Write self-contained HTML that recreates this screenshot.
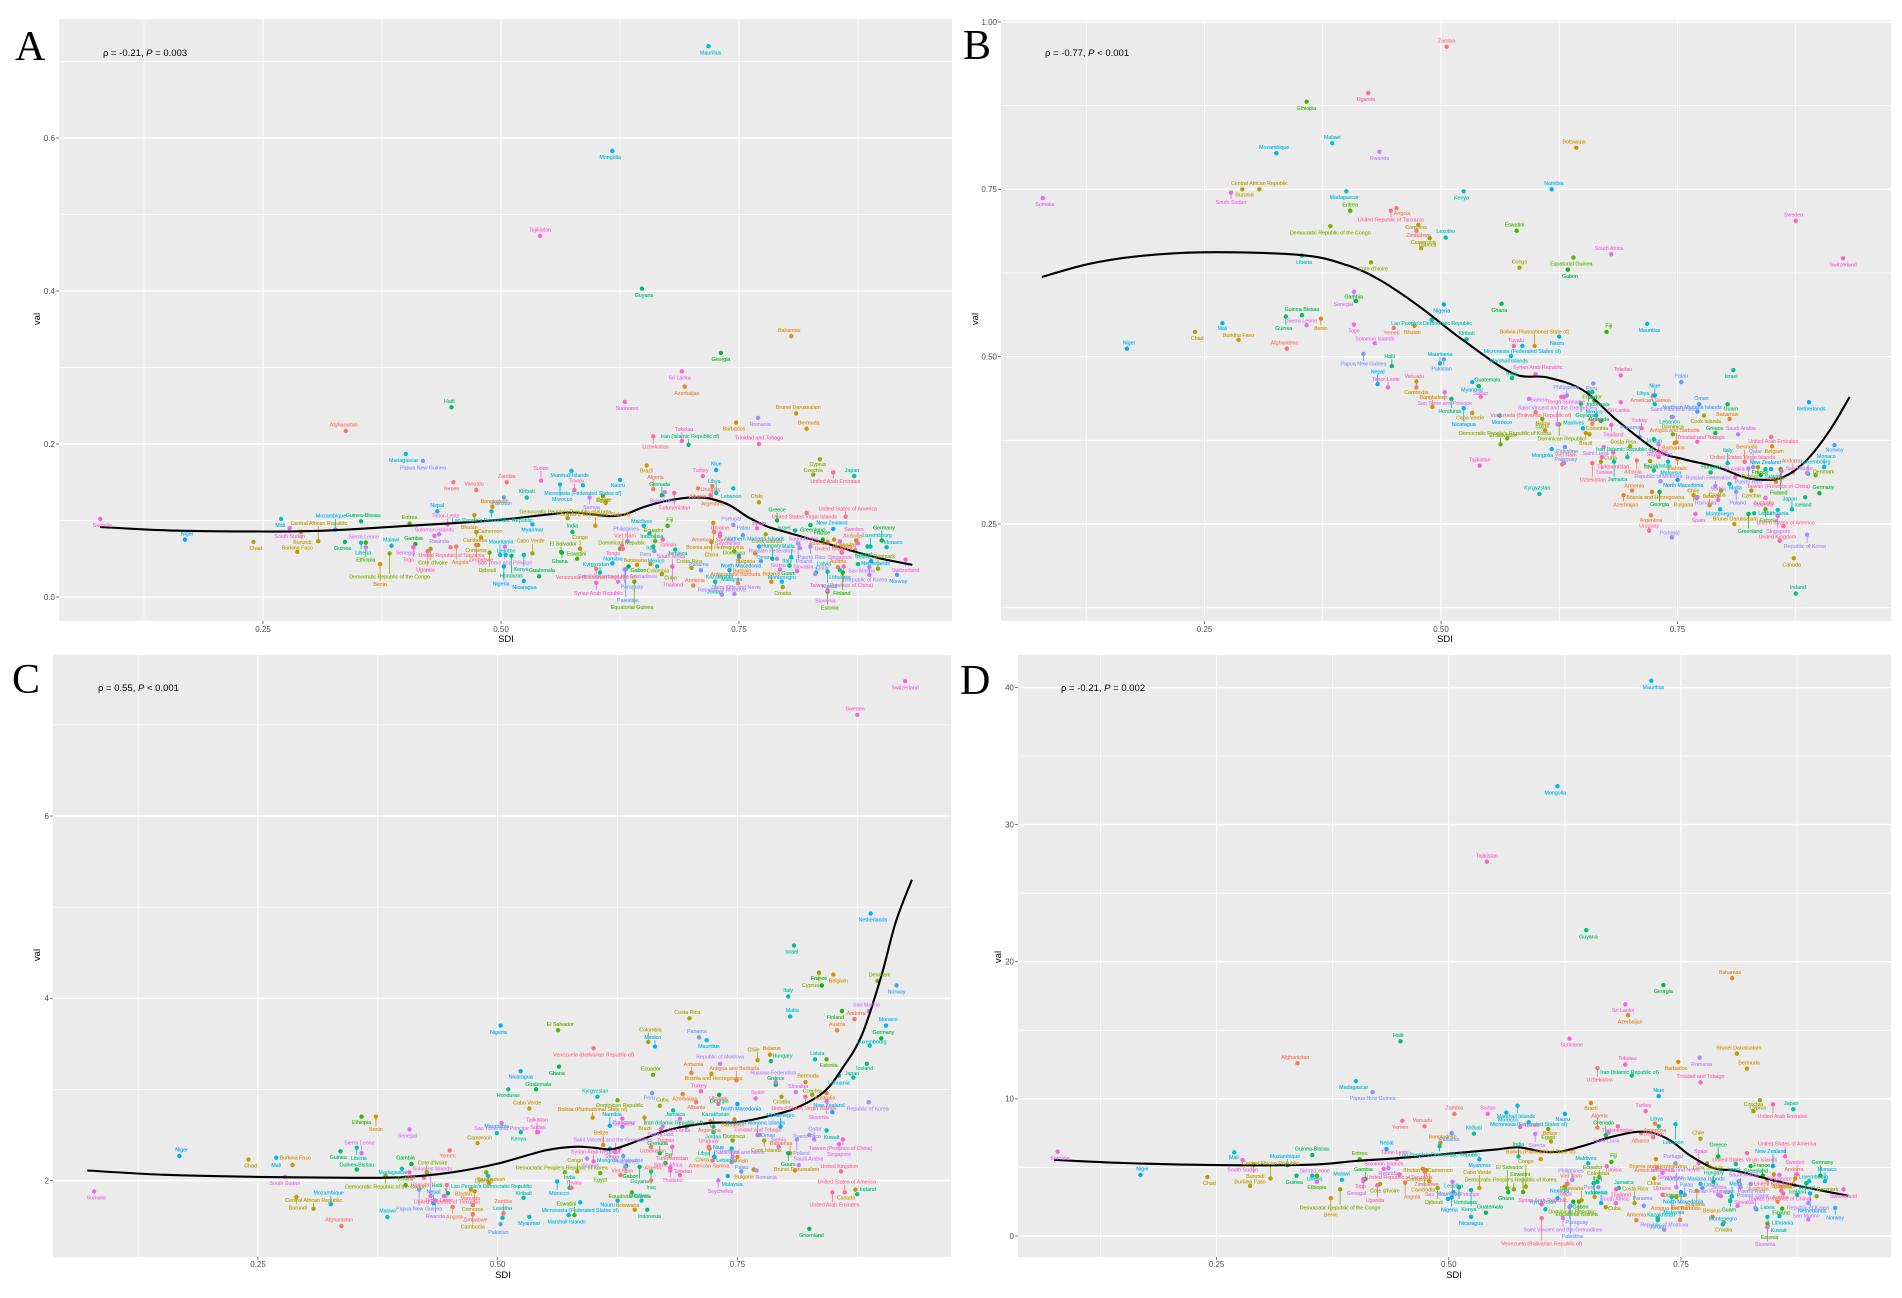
<!DOCTYPE html>
<html lang="en">
<head>
<meta charset="utf-8">
<title>SDI correlation panels</title>
<style>
html,body{margin:0;padding:0;background:#fff;}
svg{display:block;font-family:"Liberation Sans",sans-serif;filter:blur(0.3px);}
</style>
</head>
<body>
<svg id="figure" width="1902" height="1298" viewBox="0 0 1902 1298" xmlns="http://www.w3.org/2000/svg"></svg>
<script>
const countries = [
"Afghanistan","Albania","Algeria","American Samoa","Andorra","Angola","Antigua and Barbuda","Argentina","Armenia","Australia",
"Austria","Azerbaijan","Bahamas","Bahrain","Bangladesh","Barbados","Belarus","Belgium","Belize","Benin",
"Bermuda","Bhutan","Bolivia (Plurinational State of)","Bosnia and Herzegovina","Botswana","Brazil","Brunei Darussalam","Bulgaria","Burkina Faso","Burundi",
"Cabo Verde","Cambodia","Cameroon","Canada","Central African Republic","Chad","Chile","China","Colombia","Comoros",
"Congo","Cook Islands","Costa Rica","Croatia","Cuba","Cyprus","Czechia","Cote d'Ivoire","Democratic People's Republic of Korea","Democratic Republic of the Congo",
"Denmark","Djibouti","Dominica","Dominican Republic","Ecuador","Egypt","El Salvador","Equatorial Guinea","Eritrea","Estonia",
"Eswatini","Ethiopia","Fiji","Finland","France","Gabon","Gambia","Georgia","Germany","Ghana",
"Greece","Greenland","Grenada","Guam","Guatemala","Guinea","Guinea-Bissau","Guyana","Haiti","Honduras",
"Hungary","Iceland","India","Indonesia","Iran (Islamic Republic of)","Iraq","Ireland","Israel","Italy","Jamaica",
"Japan","Jordan","Kazakhstan","Kenya","Kiribati","Kuwait","Kyrgyzstan","Lao People's Democratic Republic","Latvia","Lebanon",
"Lesotho","Liberia","Libya","Lithuania","Luxembourg","Madagascar","Malawi","Malaysia","Maldives","Mali",
"Malta","Marshall Islands","Mauritania","Mauritius","Mexico","Micronesia (Federated States of)","Monaco","Mongolia","Montenegro","Morocco",
"Mozambique","Myanmar","Namibia","Nauru","Nepal","Netherlands","New Zealand","Nicaragua","Niger","Nigeria",
"Niue","North Macedonia","Northern Mariana Islands","Norway","Oman","Pakistan","Palau","Palestine","Panama","Papua New Guinea",
"Paraguay","Peru","Philippines","Poland","Portugal","Puerto Rico","Qatar","Republic of Korea","Republic of Moldova","Romania",
"Russian Federation","Rwanda","Saint Kitts and Nevis","Saint Lucia","Saint Vincent and the Grenadines","Samoa","San Marino","Sao Tome and Principe","Saudi Arabia","Senegal",
"Serbia","Seychelles","Sierra Leone","Singapore","Slovakia","Slovenia","Solomon Islands","Somalia","South Africa","South Sudan",
"Spain","Sri Lanka","Sudan","Suriname","Sweden","Switzerland","Syrian Arab Republic","Taiwan (Province of China)","Tajikistan","Thailand",
"Timor-Leste","Togo","Tokelau","Tonga","Trinidad and Tobago","Tunisia","Turkey","Turkmenistan","Tuvalu","Uganda",
"Ukraine","United Arab Emirates","United Kingdom","United Republic of Tanzania","United States of America","United States Virgin Islands","Uruguay","Uzbekistan","Vanuatu","Venezuela (Bolivarian Republic of)",
"Viet Nam","Yemen","Zambia","Zimbabwe"
];
const sdi = [
.337,.707,.66,.724,.872,.453,.749,.722,.702,.843,
.854,.693,.805,.75,.491,.747,.784,.85,.61,.373,
.821,.472,.599,.723,.643,.653,.81,.767,.286,.29,
.533,.474,.479,.873,.308,.24,.771,.721,.657,.476,
.583,.778,.70,.796,.669,.835,.828,.426,.57,.383,
.896,.488,.745,.625,.662,.607,.563,.64,.404,.843,
.58,.358,.675,.859,.838,.634,.41,.731,.90,.564,
.79,.825,.669,.803,.54,.336,.353,.648,.448,.511,
.785,.885,.575,.656,.697,.66,.875,.809,.803,.683,
.871,.725,.725,.524,.527,.843,.604,.49,.831,.744,
.505,.353,.726,.856,.888,.40,.385,.74,.65,.269,
.805,.574,.499,.718,.664,.586,.905,.617,.795,.562,
.326,.533,.617,.625,.433,.889,.849,.524,.168,.503,
.726,.75,.771,.916,.773,.503,.754,.631,.71,.418,
.63,.661,.633,.812,.744,.825,.83,.887,.732,.77,
.79,.435,.745,.672,.623,.593,.887,.504,.814,.408,
.793,.73,.358,.856,.811,.843,.43,.079,.68,.278,
.769,.69,.542,.63,.875,.925,.60,.86,.541,.68,
.444,.408,.69,.627,.771,.67,.712,.682,.577,.423,
.73,.849,.858,.447,.862,.821,.72,.66,.474,.60,
.628,.45,.506,.474
];
const valA = [
.217,.142,.141,.085,.061,.066,.018,.145,.015,.072,
.039,.275,.341,.052,.118,.228,.02,.075,.123,.043,
.22,.107,.093,.097,.042,.172,.24,.057,.059,.085,
.057,.085,.078,.074,.073,.072,.124,.072,.043,.068,
.063,.082,.038,.013,.03,.18,.16,.063,.103,.057,
.037,.058,.06,.063,.073,.132,.059,.02,.096,.007,
.05,.071,.093,.032,.075,.04,.069,.319,.074,.058,
.10,.094,.133,.041,.027,.072,.099,.403,.248,.054,
.05,.066,.085,.083,.199,.066,.043,.087,.041,.062,
.158,.02,.02,.055,.13,.033,.032,.112,.032,.142,
.055,.071,.136,.035,.066,.187,.067,.035,.093,.102,
.052,.165,.055,.72,.04,.146,.065,.583,.02,.147,
.088,.095,.044,.153,.112,.047,.089,.021,.075,.04,
.166,.054,.066,.029,.047,.13,.081,.036,.035,.178,
.036,.06,.073,.07,.094,.066,.03,.039,.003,.234,
.05,.082,.004,.137,.02,.13,.029,.066,.064,.066,
.036,.083,.065,.073,.034,.009,.08,.102,.04,.09,
.09,.295,.152,.255,.07,.049,.0185,.04,.472,.04,
.095,.065,.204,.067,.20,.075,.158,.136,.14,.06,
.08,.163,.058,.065,.105,.11,.133,.21,.14,.037,
.063,.15,.15,.068
];
const valB = [
.512,.345,.40,.442,.327,.722,.372,.263,.30,.289,
.313,.293,.407,.347,.425,.371,.278,.366,.39,.557,
.343,.546,.516,.298,.812,.386,.25,.293,.525,.75,
.416,.463,.662,.199,.75,.537,.29,.344,.384,.697,
.633,.412,.366,.30,.343,.335,.30,.641,.378,.695,
.323,.677,.384,.399,.434,.407,.369,.648,.718,.272,
.688,.881,.537,.332,.323,.63,.583,.298,.296,.579,
.386,.265,.404,.429,.456,.56,.562,.43,.486,.437,
.327,.29,.468,.447,.35,.447,.146,.48,.341,.343,
.272,.377,.33,.747,.526,.332,.295,.555,.266,.41,
.678,.651,.429,.271,.325,.747,.819,.343,.393,.55,
.31,.501,.49,.549,.412,.516,.335,.362,.272,.412,
.804,.462,.75,.53,.459,.432,.332,.423,.512,.578,
.442,.316,.418,.368,.429,.496,.462,.365,.38,.504,
.341,.46,.442,.298,.23,.333,.335,.234,.314,.289,
.307,.806,.41,.365,.399,.437,.326,.447,.384,.597,
.286,.369,.547,.262,.32,.289,.52,.737,.653,.745,
.265,.432,.44,.44,.703,.647,.474,.329,.337,.398,
.454,.548,.472,.44,.373,.35,.393,.357,.516,.894,
.35,.38,.225,.718,.247,.343,.24,.341,.454,.417,
.339,.543,.963,.688
];
const valC = [
1.50,2.86,2.0,2.22,3.77,1.71,3.10,2.65,3.18,2.96,
3.65,2.95,2.3,2.26,1.97,2.67,3.38,4.26,2.39,2.70,
3.08,1.9,2.69,3.17,1.68,2.69,2.11,2.12,2.17,1.82,
2.79,1.63,2.41,1.9,1.69,2.23,3.32,2.35,3.52,1.88,
2.1,2.44,3.78,2.92,2.82,4.28,2.94,2.09,2.09,2.05,
4.19,2.09,2.44,2.88,3.16,2.08,3.65,1.87,1.95,3.33,
1.62,2.70,2.19,3.86,4.14,2.16,2.18,2.94,3.56,3.25,
3.05,1.47,2.3,2.3,3.0,2.32,2.12,2.15,1.86,3.0,
3.31,3.28,1.92,1.68,2.59,2.1,1.85,4.58,4.02,2.77,
3.13,2.53,2.59,2.53,1.81,2.55,2.92,2.05,3.33,2.35,
1.59,2.36,2.26,3.15,3.48,2.13,1.6,2.05,1.78,2.25,
3.8,1.62,2.52,3.54,3.47,1.76,3.7,2.35,2.59,1.99,
1.74,1.6,2.6,1.78,1.75,4.93,2.75,3.2,2.27,3.7,
2.26,2.84,2.5,4.14,2.5,1.52,2.1,2.27,3.57,1.9,
2.59,2.96,2.15,2.45,2.2,2.5,2.45,2.86,3.28,2.11,
3.08,1.78,2.26,2.59,2.31,2.24,3.86,2.63,2.17,2.56,
2.37,2.0,2.3,2.4,2.97,2.87,1.83,1.88,2.14,2.04,
2.9,2.68,2.53,2.68,7.11,7.48,2.21,2.45,2.53,2.11,
1.83,2.09,2.06,2.35,2.5,2.56,2.98,2.37,1.92,2.03,
2.84,1.87,2.1,1.95,1.87,2.92,2.37,2.37,1.73,3.45,
2.06,2.33,1.64,1.63
];
const valD = [
12.6,7.5,7.9,5.0,3.7,3.9,1.17,8.2,1.15,4.1,
2.5,16.1,18.8,3.2,6.8,12.7,1.4,4.5,6.9,2.77,
12.2,4.9,5.6,5.6,2.6,9.7,13.3,3.3,3.65,5.2,
3.5,4.8,4.0,4.2,4.2,4.3,7.1,4.2,2.85,4.8,
3.6,5.3,2.4,1.0,2.1,9.9,9.1,3.8,3.4,3.4,
2.9,3.5,2.85,3.6,4.3,7.8,3.5,2.5,5.6,0.9,
3.2,4.4,5.4,2.0,4.4,2.5,4.15,18.3,4.4,3.2,
5.8,5.1,7.35,2.6,1.7,4.4,5.9,22.3,14.2,3.55,
3.95,3.85,5.8,3.85,11.7,3.95,3.0,5.25,2.55,3.5,
9.25,1.15,1.3,3.35,7.46,1.4,1.95,6.55,1.95,8.15,
3.2,4.4,8.0,1.45,4.0,11.3,4.1,2.85,5.3,6.1,
2.9,9.5,2.7,40.5,2.4,8.3,4.0,32.8,0.85,9.0,
5.15,5.6,2.75,8.9,6.35,3.1,5.1,1.4,4.45,2.8,
10.2,3.2,3.8,2.05,3.5,7.5,3.0,2.2,2.2,10.5,
2.1,3.55,4.1,4.0,5.3,3.8,2.05,2.4,.45,13.0,
3.0,4.95,3.55,7.55,1.3,7.45,1.2,3.95,3.55,4.0,
2.9,4.6,3.95,4.45,2.2,.65,4.9,6.15,2.4,5.55,
5.3,16.9,8.9,14.4,4.5,3.4,2.3,3.1,27.3,3.4,
5.6,4.15,12.5,3.8,11.2,5.1,9.1,8.0,7.95,3.7,
3.0,9.6,3.3,4.5,5.8,6.05,7.2,12.25,8.0,1.3,
3.8,8.4,8.9,4.7
];
const fitSdiA = [.079,.15,.25,.3,.35,.4,.45,.5,.55,.575,.6,.615,.63,.65,.67,.69,.705,.72,.74,.76,.78,.80,.83,.85,.875,.90,.932];
const fitValA = [.0916,.087,.0856,.0862,.089,.093,.0965,.101,.108,.1105,.1073,.1057,.108,.1176,.1247,.129,.130,.1285,.12,.104,.092,.0846,.074,.067,.058,.05,.042];
const fitSdiB = [.078,.126,.179,.249,.351,.40,.436,.478,.523,.576,.612,.65,.686,.728,.756,.792,.82,.84,.862,.887,.911,.932];
const fitValB = [.619,.638,.65,.656,.652,.637,.614,.574,.525,.475,.469,.45,.405,.36,.347,.335,.32,.316,.32,.346,.39,.44];
const fitSdiC = [.072,.15,.25,.35,.40,.45,.5,.55,.58,.6,.62,.65,.68,.72,.75,.78,.81,.84,.86,.88,.90,.915,.932];
const fitValC = [2.11,2.064,2.04,2.03,2.036,2.086,2.186,2.33,2.37,2.36,2.345,2.45,2.56,2.63,2.64,2.70,2.79,2.97,3.24,3.6,4.24,4.83,5.3];
const fitSdiD = [.075,.15,.25,.35,.4,.45,.5,.55,.575,.60,.62,.65,.67,.70,.72,.74,.76,.785,.81,.85,.88,.93];
const fitValD = [5.56,5.32,5.17,5.2,5.47,5.7,6.0,6.3,6.47,6.16,6.16,6.68,7.13,7.58,7.52,6.9,5.86,4.95,4.74,4.05,3.6,2.93];
const xTicks = [0.25,0.5,0.75];
const xMinorTicks = [0.125,0.375,0.625,0.875];
const yTicksA = [0,0.2,0.4,0.6];
const yMinorA = [0.1,0.3,0.5,0.7];
const yTicksB = [0.25,0.5,0.75,1];
const yMinorB = [0.125,0.375,0.625,0.875];
const yTicksC = [2,4,6];
const yMinorC = [3,5,7];
const yTicksD = [0,10,20,30,40];
const yMinorD = [5,15,25,35];

const panels = [
 {id:'a',letter:'A',lx:15,ly:60,left:59,right:952,top:19,bottom:621,x25:263,x75:739,yv0:0,yp0:597,yv1:0.6,yp1:138,
  rhoPre:'\u03C1 = -0.21, ',rhoPost:' = 0.003',rx:103,ry:56,valX:40,valY:319,sdiX:506,sdiY:642,tickY:632,tickFmt:v=>v.toFixed(1),
  vals:valA,ticks:yTicksA,minor:yMinorA,fx:fitSdiA,fy:fitValA},
 {id:'b',letter:'B',lx:963,ly:59,left:1001,right:1891,top:20,bottom:621,x25:1204.5,x75:1677.5,yv0:0.25,yp0:524,yv1:1,yp1:22,
  rhoPre:'\u03C1 = -0.77, ',rhoPost:' < 0.001',rx:1045,ry:56,valX:978,valY:319,sdiX:1445,sdiY:642,tickY:632,tickFmt:v=>v.toFixed(2),
  vals:valB,ticks:yTicksB,minor:yMinorB,fx:fitSdiB,fy:fitValB},
 {id:'c',letter:'C',lx:12,ly:693,left:53,right:951,top:655,bottom:1257,x25:258,x75:737.4,yv0:2,yp0:1180.5,yv1:6,yp1:816,
  rhoPre:'\u03C1 = 0.55, ',rhoPost:' < 0.001',rx:98,ry:691,valX:40,valY:955,sdiX:503,sdiY:1278,tickY:1267,tickFmt:v=>String(v),
  vals:valC,ticks:yTicksC,minor:yMinorC,fx:fitSdiC,fy:fitValC},
 {id:'d',letter:'D',lx:960,ly:694,left:1018,right:1891,top:655,bottom:1257,x25:1216.6,x75:1681,yv0:0,yp0:1236,yv1:40,yp1:687.5,
  rhoPre:'\u03C1 = -0.21, ',rhoPost:' = 0.002',rx:1061,ry:691,valX:1001,valY:957,sdiX:1454,sdiY:1278,tickY:1267,tickFmt:v=>String(v),
  vals:valD,ticks:yTicksD,minor:yMinorD,fx:fitSdiD,fy:fitValD}
];

const NS = 'http://www.w3.org/2000/svg';
const root = document.getElementById('figure');

function hclColor(h){
  const L=65,C=100,rad=h*Math.PI/180;
  const u=C*Math.cos(rad),v=C*Math.sin(rad);
  const Y=Math.pow((L+16)/116,3);
  const up=u/(13*L)+0.19784,vp=v/(13*L)+0.46834;
  const X=Y*9*up/(4*vp),Z=Y*(12-3*up-20*vp)/(4*vp);
  const lin=[3.2406*X-1.5372*Y-0.4986*Z,-0.9689*X+1.8758*Y+0.0415*Z,0.0557*X-0.2040*Y+1.0570*Z];
  const ch=lin.map(c=>{
    c=Math.max(0,Math.min(1,c));
    const g=c<=0.0031308?12.92*c:1.055*Math.pow(c,1/2.4)-0.055;
    return Math.round(g*255);
  });
  return 'rgb('+ch.join(',')+')';
}
function mk(tag,attrs,parent){
  const el=document.createElementNS(NS,tag);
  for(const k in attrs){el.setAttribute(k,attrs[k]);}
  parent.appendChild(el);
  return el;
}
function slug(s){return s.toLowerCase().replace(/[^a-z0-9]+/g,'-').replace(/^-|-$/g,'');}

function placeLabels(items,p){
  const n=items.length,h=7.4,pad=2.2;
  items.forEach((it,i)=>{
    it.w=it.name.length*2.55+3;
    it.h=6;
    it.sign=(i%2===0)?-1:1;
    it.lx=it.x+((i%3)-1)*8;
    it.ly=it.y+it.sign*7;
  });
  for(let iter=0;iter<260;iter++){
    for(let i=0;i<n;i++){
      const a=items[i];
      for(let j=i+1;j<n;j++){
        const b=items[j];
        const dx=a.lx-b.lx,dy=a.ly-b.ly;
        const ox=(a.w+b.w)/2-Math.abs(dx),oy=h-Math.abs(dy);
        if(ox>0&&oy>0){
          if(oy<ox*1.5){
            const s=(dy===0?(i%2?1:-1):Math.sign(dy))*oy*0.36;
            a.ly+=s;b.ly-=s;
          }else{
            const s=(dx===0?1:Math.sign(dx))*ox*0.36;
            a.lx+=s;b.lx-=s;
          }
        }
      }
      for(let k=0;k<n;k++){
        const q=items[k];
        const dx=a.lx-q.x,dy=a.ly-q.y;
        const ox=a.w/2+pad-Math.abs(dx),oy=3+pad-Math.abs(dy);
        if(ox>0&&oy>0){
          if(oy<ox){a.ly+=(dy===0?a.sign:Math.sign(dy))*oy*0.5;}
          else{a.lx+=(dx===0?1:Math.sign(dx))*ox*0.5;}
        }
      }
      a.lx+=(a.x-a.lx)*0.005;
      a.ly+=(a.y+a.sign*6-a.ly)*0.005;
      a.lx=Math.max(p.left+a.w/2+1,Math.min(p.right-a.w/2-1,a.lx));
      a.ly=Math.max(p.top+4,Math.min(p.bottom-4,a.ly));
    }
  }
}

function smoothPath(pts){
  let d='M'+pts[0][0].toFixed(1)+' '+pts[0][1].toFixed(1);
  for(let i=0;i<pts.length-1;i++){
    const p0=pts[Math.max(0,i-1)],p1=pts[i],p2=pts[i+1],p3=pts[Math.min(pts.length-1,i+2)];
    const c1=[p1[0]+(p2[0]-p0[0])/6,p1[1]+(p2[1]-p0[1])/6];
    const c2=[p2[0]-(p3[0]-p1[0])/6,p2[1]-(p3[1]-p1[1])/6];
    d+='C'+c1[0].toFixed(1)+' '+c1[1].toFixed(1)+' '+c2[0].toFixed(1)+' '+c2[1].toFixed(1)+' '+p2[0].toFixed(1)+' '+p2[1].toFixed(1);
  }
  return d;
}

panels.forEach(p=>{
  const xs=v=>p.x25+(v-0.25)*(p.x75-p.x25)/0.5;
  const ys=v=>p.yp0+(v-p.yv0)*(p.yp1-p.yp0)/(p.yv1-p.yv0);
  const g=mk('g',{},root);
  
  

  const bg=mk('rect',{x:p.left,y:p.top,width:p.right-p.left,height:p.bottom-p.top,fill:'#EBEBEB'},g);
  
  

  xMinorTicks.forEach(v=>{
    const l=mk('line',{x1:xs(v),x2:xs(v),y1:p.top,y2:p.bottom,stroke:'#fff','stroke-width':0.6},g);
    
    
  });
  p.minor.forEach(v=>{
    const l=mk('line',{x1:p.left,x2:p.right,y1:ys(v),y2:ys(v),stroke:'#fff','stroke-width':0.8},g);
    
    
  });
  xTicks.forEach(v=>{
    const l=mk('line',{x1:xs(v),x2:xs(v),y1:p.top,y2:p.bottom,stroke:'#fff','stroke-width':1.1},g);
    
    
    const t=mk('line',{x1:xs(v),x2:xs(v),y1:p.bottom,y2:p.bottom+3,stroke:'#444','stroke-width':0.7},g);
    
    
    const lab=mk('text',{x:xs(v),y:p.tickY,'text-anchor':'middle','font-size':8,fill:'#4d4d4d'},g);
    
    
    lab.textContent=v.toFixed(2);
  });
  p.ticks.forEach(v=>{
    const l=mk('line',{x1:p.left,x2:p.right,y1:ys(v),y2:ys(v),stroke:'#fff','stroke-width':1.4},g);
    
    
    const t=mk('line',{x1:p.left-3,x2:p.left,y1:ys(v),y2:ys(v),stroke:'#444','stroke-width':0.7},g);
    
    
    const lab=mk('text',{x:p.left-4,y:ys(v)+2.8,'text-anchor':'end','font-size':8,fill:'#4d4d4d'},g);
    
    
    lab.textContent=p.tickFmt(v);
  });

  const items=countries.map((name,i)=>({name:name,x:xs(sdi[i]),y:ys(p.vals[i]),color:hclColor(15+360*i/countries.length)}));
  placeLabels(items,p);

  items.forEach(it=>{
    const nx=Math.max(it.lx-it.w/2,Math.min(it.lx+it.w/2,it.x));
    const ny=Math.max(it.ly-it.h/2,Math.min(it.ly+it.h/2,it.y));
    if(Math.hypot(nx-it.x,ny-it.y)>5){
      const seg=mk('line',{x1:it.x,y1:it.y,x2:nx,y2:ny,stroke:it.color,'stroke-width':0.8},g);
      
      
    }
  });
  items.forEach(it=>{
    const c=mk('circle',{cx:it.x,cy:it.y,r:2.2,fill:it.color},g);
    
    
  });

  const curve=mk('path',{d:smoothPath(p.fx.map((v,i)=>[xs(v),ys(p.fy[i])])),fill:'none',stroke:'#000','stroke-width':2.1,'stroke-linecap':'butt','stroke-linejoin':'round'},g);
  
  

  items.forEach(it=>{
    const t=mk('text',{x:it.lx,y:it.ly+1.9,'text-anchor':'middle','font-size':5.3,fill:it.color,stroke:it.color,'stroke-width':0.12},g);
    
    
    t.textContent=it.name;
  });

  const rho=mk('text',{x:p.rx,y:p.ry,'font-size':9.5,fill:'#000'},g);
  
  
  rho.appendChild(document.createTextNode(p.rhoPre));
  const italic=mk('tspan',{'font-style':'italic'},rho);
  italic.textContent='P';
  rho.appendChild(document.createTextNode(p.rhoPost));

  const letter=mk('text',{x:p.lx,y:p.ly,'font-size':42,fill:'#000','font-family':'"Liberation Serif",serif'},g);
  
  
  letter.textContent=p.letter;

  const xt=mk('text',{x:p.sdiX,y:p.sdiY,'text-anchor':'middle','font-size':9.5,fill:'#000'},g);
  
  
  xt.textContent='SDI';

  const yt=mk('text',{x:p.valX,y:p.valY,'text-anchor':'middle','font-size':9.5,fill:'#000',transform:'rotate(-90 '+p.valX+' '+p.valY+')'},g);
  
  
  yt.textContent='val';
});
</script>
</body>
</html>
